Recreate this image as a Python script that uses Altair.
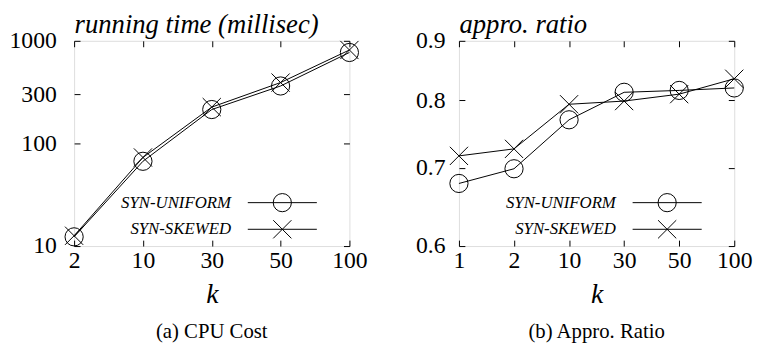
import altair as alt
import pandas as pd

FONT = "Liberation Serif"

# ---- data ----
series_names = ["SYN-UNIFORM", "SYN-SKEWED"]

k_cpu = ["2", "10", "30", "50", "100"]
cpu_uniform = [12.3, 67, 214, 363, 770]
cpu_skewed = [12.6, 73, 226, 392, 814]
cpu_ticks = [10, 100, 300, 1000]

k_ratio = ["1", "2", "10", "30", "50", "100"]
ratio_uniform = [0.679, 0.699, 0.770, 0.813, 0.816, 0.820]
ratio_skewed = [0.717, 0.727, 0.794, 0.799, 0.810, 0.835]
ratio_ticks = [0.6, 0.7, 0.8, 0.9]

X_PATH = "M-1,-1L1,1M-1,1L1,-1"
shape_scale = alt.Scale(domain=series_names, range=["circle", X_PATH])


def long_df(kvals, a, b):
    rows = []
    for kv, v in zip(kvals, a):
        rows.append({"k": kv, "v": v, "series": series_names[0]})
    for kv, v in zip(kvals, b):
        rows.append({"k": kv, "v": v, "series": series_names[1]})
    return pd.DataFrame(rows)


def panel(df, kvals, ticks, ydomain, fmt, W, H, ytitle, caption, ylabpad):
    xs = alt.Scale(type="point", padding=0)
    ys = alt.Scale(type="log", domain=ydomain, nice=False)

    def X(axis):
        return alt.X("k:O", sort=kvals, scale=xs, axis=axis)

    def Y(axis):
        return alt.Y("v:Q", scale=ys, axis=axis)

    x_main = alt.Axis(title="k", titleFont=FONT, titleFontStyle="italic",
                      titleFontWeight="normal", titleFontSize=28,
                      titleColor="black", titlePadding=8,
                      labelFont=FONT, labelFontSize=24, labelColor="black",
                      labelAngle=0, labelPadding=3, ticks=False, domain=False,
                      grid=False, orient="bottom")
    y_main = alt.Axis(values=ticks, format=fmt, title=ytitle, titleAngle=0,
                      titleAlign="left", titleBaseline="alphabetic",
                      titleX=0, titleY=-8, titleFont=FONT,
                      titleFontStyle="italic", titleFontWeight="normal",
                      titleFontSize=27, titleColor="black",
                      labelFont=FONT, labelFontSize=24, labelColor="black",
                      labelPadding=ylabpad, ticks=False, domain=False,
                      grid=False, orient="left")

    def tick_x(orient, off):
        return alt.Axis(orient=orient, offset=off, labels=False, domain=False,
                        ticks=True, tickSize=6, tickColor="black", title=None,
                        grid=False)

    def tick_y(orient, off):
        return alt.Axis(values=ticks, orient=orient, offset=off, labels=False,
                        domain=False, ticks=True, tickSize=6,
                        tickColor="black", title=None, grid=False)

    base = alt.Chart(df)
    lines = base.mark_line(color="black", strokeWidth=1).encode(
        x=X(x_main), y=Y(y_main), detail="series:N")
    pts = base.mark_point(filled=False, size=340, color="black",
                          strokeWidth=1, opacity=1).encode(
        x=X(tick_x("top", -H)), y=Y(tick_y("right", -W)),
        shape=alt.Shape("series:N", scale=shape_scale, legend=None))
    inv = base.mark_point(opacity=0).encode(
        x=X(tick_x("bottom", -H)), y=Y(tick_y("left", -W)))

    layers = [lines, pts, inv]
    for name, yy in zip(series_names, [164, 191]):
        d = pd.DataFrame({"label": [name], "series": [name]})
        b = alt.Chart(d)
        layers.append(b.mark_text(align="right", baseline="middle",
                                  font=FONT, fontStyle="italic", fontSize=17,
                                  color="black").encode(
            x=alt.value(159), y=alt.value(yy), text="label:N"))
        layers.append(b.mark_rule(color="black", strokeWidth=1).encode(
            x=alt.value(176), x2=alt.value(246), y=alt.value(yy)))
        layers.append(b.mark_point(filled=False, size=340, color="black",
                                   strokeWidth=1, opacity=1).encode(
            x=alt.value(211), y=alt.value(yy),
            shape=alt.Shape("series:N", scale=shape_scale, legend=None)))

    return alt.layer(*layers).resolve_axis(
        x="independent", y="independent").properties(
        width=W, height=H,
        title=alt.TitleParams(text=caption, orient="bottom", anchor="middle",
                              font=FONT, fontSize=21, fontWeight="normal",
                              color="black", offset=13))


left = panel(long_df(k_cpu, cpu_uniform, cpu_skewed), k_cpu, cpu_ticks,
             [10, 1000], "d", 279, 208, "running time (millisec)",
             "(a) CPU Cost", 18)
right = panel(long_df(k_ratio, ratio_uniform, ratio_skewed), k_ratio,
              ratio_ticks, [0.6, 0.9], ".1f", 279, 208, "appro. ratio",
              "(b) Appro. Ratio", 14)

chart = alt.hconcat(left, right, spacing=47).properties(
    padding=0
).configure_view(stroke="black", strokeWidth=1.2).configure(font=FONT)

chart.save("out.html", embed_options={"renderer": "svg", "actions": False})
